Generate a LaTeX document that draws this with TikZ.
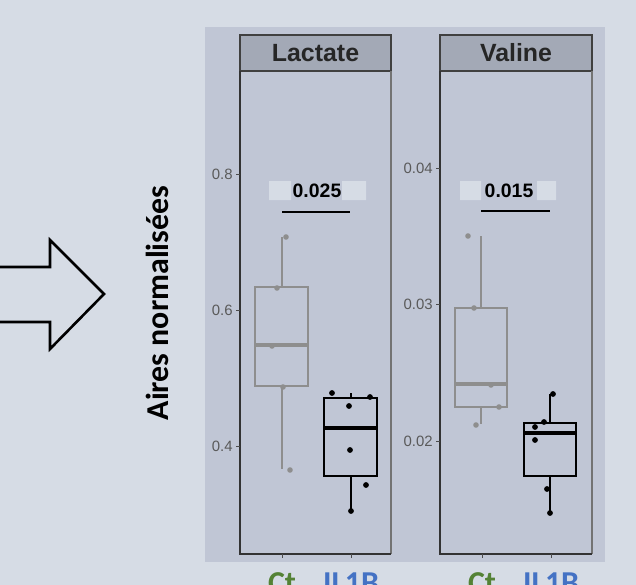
\documentclass[tikz,border=0pt]{standalone}
\usepackage{fontspec}
\setmainfont{Liberation Sans}
\newfontfamily\calibfont{Carlito}
\definecolor{pagebg}{HTML}{D6DCE5}
\definecolor{plotbg}{HTML}{C0C6D5}
\definecolor{stripbg}{HTML}{A3A9B6}
\definecolor{ctgray}{HTML}{8E8E8E}
\definecolor{ctgreen}{HTML}{548235}
\definecolor{ilblue}{HTML}{4472C4}
\definecolor{ticktext}{HTML}{5A5A5A}
\begin{document}
\begin{tikzpicture}[x=1bp,y=-1bp,semithick,
  ctline/.style={draw=ctgray,line width=2.2bp},
  illine/.style={draw=black,line width=2.6bp},
  ctdot/.style={fill=ctgray,draw=none},
  ildot/.style={fill=black,draw=none},
  ticklab/.style={anchor=east,inner sep=0pt,text=ticktext,font=\fontsize{15}{15}\selectfont},
  striplab/.style={inner sep=0pt,font=\fontsize{25}{25}\selectfont\bfseries,text=black!85},
  pvlab/.style={inner sep=0pt,font=\fontsize{19.5}{19.5}\selectfont\bfseries},
  grplab/.style={anchor=base,inner sep=0pt,font=\fontsize{32}{32}\selectfont\calibfont\bfseries}]
\useasboundingbox (0,0) rectangle (636,585);
\clip (0,0) rectangle (636,585);
\fill[pagebg] (0,0) rectangle (636,585);
% big hollow arrow
\draw[line width=2.6bp,miter limit=10] (-3,267)--(50,267)--(50,240)--(104,294)--(50,349)--(50,322)--(-3,322);
\node[rotate=90,inner sep=0pt,font=\fontsize{32}{32}\selectfont\calibfont\bfseries] (ylab) at (157,303) {Aires normalisées};
% plot area
\fill[plotbg] (205,27) rectangle (605,562);
% Lactate panel
\fill[stripbg] (240,35) rectangle (391,71);
\draw[black!75,line width=1.2bp] (240,35) rectangle (391,71);
\node[striplab] (lacstrip) at (315.5,53) {Lactate};
\draw[black!55,line width=1.2bp] (391,71)--(391,554);
\draw[black!80,line width=1.2bp] (240,71)--(240,554)--(391,554);
\draw[black!70] (236,174)--(240,174) (236,310)--(240,310) (236,446)--(240,446);
\node[ticklab] (l08) at (233,174) {0.8};
\node[ticklab] (l06) at (233,310) {0.6};
\node[ticklab] (l04) at (233,446) {0.4};
\draw[black!70] (282,554)--(282,558) (351,554)--(351,558);
% p value Lactate
\fill[pagebg] (269,181) rectangle (291,200) (342,181) rectangle (366,200);
\node[pvlab] (lacp) at (317,190.5) {0.025};
\coordinate (lacA) at (282,212);
\coordinate (lacB) at (350,212);
\draw[line width=1.8bp] (lacA)--(lacB);
% Lactate Ct
\draw[ctline] (255,287) rectangle (308,386);
\draw[ctline,line width=3.2bp] (255,345)--(308,345);
\draw[ctline] (282,287)--(282,237) (282,386)--(282,469);
\foreach \p in {(286,237),(277,288),(272,346),(283,387),(290,470)}
  \fill[ctdot] \p circle (2.8);
% Lactate IL1B
\draw[illine] (324,398) rectangle (377,476);
\draw[illine,line width=4bp] (324,428)--(377,428);
\draw[illine] (351,398)--(351,393) (351,476)--(351,511);
\foreach \p in {(332,393),(370,397),(349,406),(350,450),(366,485),(351,511)}
  \fill[ildot] \p circle (2.9);
% Valine panel
\fill[stripbg] (440,35) rectangle (592,71);
\draw[black!75,line width=1.2bp] (440,35) rectangle (592,71);
\node[striplab] (valstrip) at (516,53) {Valine};
\draw[black!55,line width=1.2bp] (592,71)--(592,554);
\draw[black!80,line width=1.2bp] (440,71)--(440,554)--(592,554);
\draw[black!70] (436,168)--(440,168) (436,304)--(440,304) (436,441)--(440,441);
\node[ticklab] (v04) at (433,168) {0.04};
\node[ticklab] (v03) at (433,304) {0.03};
\node[ticklab] (v02) at (433,441) {0.02};
\draw[black!70] (482,554)--(482,558) (551,554)--(551,558);
% p value Valine
\fill[pagebg] (460,181) rectangle (481,200) (537,181) rectangle (556,200);
\node[pvlab] (valp) at (509,190.5) {0.015};
\coordinate (valA) at (481,211);
\coordinate (valB) at (550,211);
\draw[line width=1.8bp] (valA)--(valB);
% Valine Ct
\draw[ctline] (455,308) rectangle (507,407);
\draw[ctline,line width=3.2bp] (455,384)--(507,384);
\draw[ctline] (481,308)--(481,236) (481,407)--(481,424);
\foreach \p in {(468,236),(474,308),(491,385),(499,407),(476,425)}
  \fill[ctdot] \p circle (2.8);
% Valine IL1B
\draw[illine] (524,423) rectangle (576,476);
\draw[illine,line width=4bp] (524,433)--(576,433);
\draw[illine] (550,423)--(550,394) (550,476)--(550,513);
\foreach \p in {(553,394),(544,422),(535,427),(535,440),(547,489),(550,513)}
  \fill[ildot] \p circle (2.9);
% group labels
\node[grplab,text=ctgreen] (lacct) at (282,593) {Ct};
\node[grplab,text=ilblue] (lacil) at (351,593) {IL1B};
\node[grplab,text=ctgreen] (valct) at (482,593) {Ct};
\node[grplab,text=ilblue] (valil) at (551,593) {IL1B};
\end{tikzpicture}
\end{document}
